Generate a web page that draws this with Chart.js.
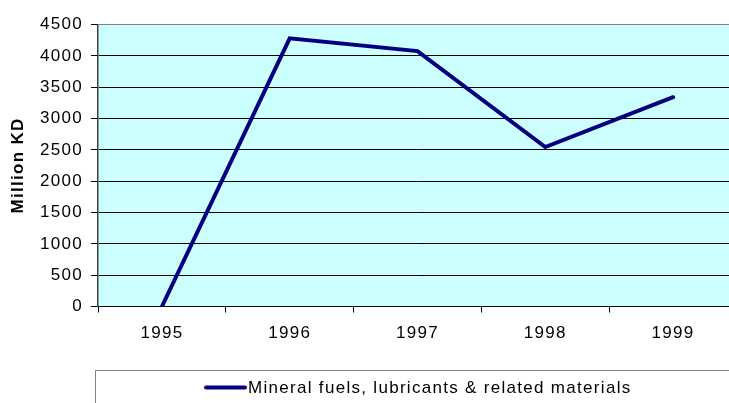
<!DOCTYPE html>
<html>
<head>
<meta charset="utf-8">
<script src="https://cdn.jsdelivr.net/npm/chart.js@4"></script>
<style>
  html, body { margin: 0; padding: 0; background: #fff; overflow: hidden; }
  #wrap { width: 740px; height: 403px; }
</style>
</head>
<body>
<div id="wrap"><canvas id="c" width="740" height="403"></canvas></div>
<script>
const categories = ['1995', '1996', '1997', '1998', '1999'];
const seriesName = 'Mineral fuels, lubricants & related materials';
const seriesValues = [0, 4280, 4075, 2545, 3340];
const yTicks = [0, 500, 1000, 1500, 2000, 2500, 3000, 3500, 4000, 4500];
const yTitle = 'Million KD';

const FONT = 'Arial, "Liberation Sans", sans-serif';
const SPACING = '1.3px';

const bgPlugin = {
  id: 'bg',
  beforeInit(chart) { chart.ctx.letterSpacing = SPACING; },
  beforeDraw(chart) {
    const { ctx, chartArea: a } = chart;
    ctx.save();
    ctx.fillStyle = '#CCFFFF';
    ctx.fillRect(a.left, a.top, a.right - a.left, a.bottom - a.top);
    ctx.restore();
    ctx.letterSpacing = SPACING;
  },
  afterDraw(chart) {
    const { ctx } = chart;
    ctx.save();
    ctx.strokeStyle = '#808080';
    ctx.lineWidth = 1;
    ctx.strokeRect(95.5, 370.5, 660, 60);
    const ds = chart.data.datasets[0];
    ctx.strokeStyle = ds.borderColor;
    ctx.lineWidth = 4;
    ctx.lineCap = 'round';
    ctx.beginPath();
    ctx.moveTo(206, 387.5);
    ctx.lineTo(245, 387.5);
    ctx.stroke();
    ctx.fillStyle = '#000';
    ctx.font = '17px ' + FONT;
    ctx.letterSpacing = SPACING;
    ctx.textBaseline = 'middle';
    ctx.textAlign = 'left';
    ctx.fillText(ds.label, 248, 388);
    ctx.restore();
  }
};

new Chart(document.getElementById('c'), {
  type: 'line',
  data: {
    labels: categories,
    datasets: [{
      label: seriesName,
      data: seriesValues,
      borderColor: '#000080',
      backgroundColor: '#000080',
      borderWidth: 4,
      pointRadius: 0,
      tension: 0,
      fill: false,
      borderCapStyle: 'round',
      borderJoinStyle: 'miter'
    }]
  },
  options: {
    responsive: false,
    animation: false,
    events: [],
    layout: { padding: { top: 24.5, right: 3, left: 0, bottom: 0 } },
    plugins: {
      legend: { display: false },
      tooltip: { enabled: false },
      title: { display: false }
    },
    scales: {
      x: {
        type: 'category',
        offset: true,
        afterFit(s) { s.height = 96.5; },
        grid: {
          offset: true,
          drawOnChartArea: false,
          drawTicks: true,
          tickLength: 6,
          color: '#000',
          lineWidth: 1
        },
        border: { display: true, color: '#000', width: 1 },
        ticks: {
          color: '#000',
          font: { family: FONT, size: 17 },
          padding: 11,
          maxRotation: 0
        }
      },
      y: {
        min: 0,
        max: 4500,
        afterFit(s) { s.width = 98; },
        afterBuildTicks(s) { s.ticks = yTicks.map(v => ({ value: v })); },
        grid: {
          color: (c) => (c.tick && c.tick.value === 4500) ? '#808080' : '#000',
          lineWidth: 1,
          drawTicks: true,
          tickLength: 7,
          tickColor: '#000'
        },
        border: { display: true, color: '#404040', width: 1.5 },
        ticks: {
          color: '#000',
          font: { family: FONT, size: 17 },
          padding: 8,
          callback: (v) => String(v)
        },
        title: {
          display: true,
          text: yTitle,
          color: '#000',
          font: { family: FONT, size: 17, weight: 'bold' },
          padding: { top: 8, bottom: 0 }
        }
      }
    }
  },
  plugins: [bgPlugin]
});
</script>
</body>
</html>
